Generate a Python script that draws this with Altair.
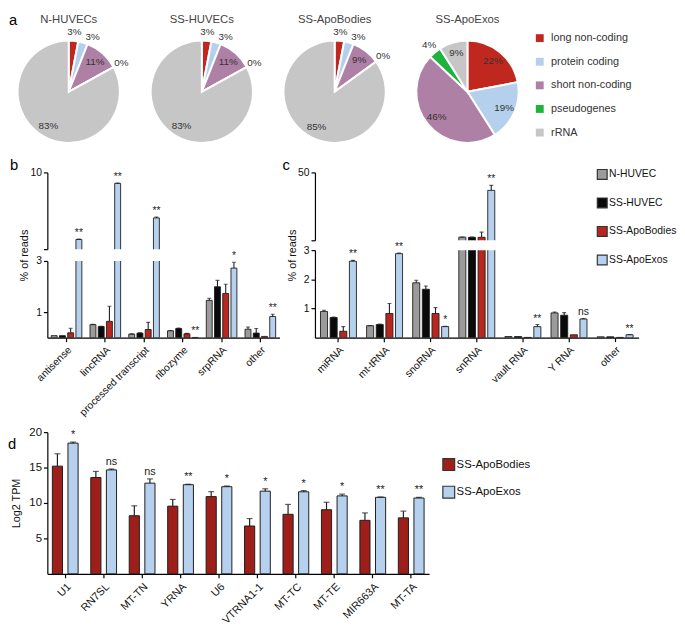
import math
import altair as alt
import pandas as pd

FONT = "Liberation Sans"
INK = "#1e1e1e"

# ---------------- panel a : read composition pies ----------------
pie_titles = ["N-HUVECs", "SS-HUVECs", "SS-ApoBodies", "SS-ApoExos"]
pie_types = ["long non-coding", "protein coding", "short non-coding", "pseudogenes", "rRNA"]
pie_colors = ["#C0281F", "#B5D0EC", "#AE80A6", "#1DB43B", "#C6C6C6"]
pie_n_huvec = [3, 3, 11, 0, 83]
pie_ss_huvec = [3, 3, 11, 0, 83]
pie_ss_apobodies = [3, 3, 9, 0, 85]
pie_ss_apoexos = [22, 19, 46, 4, 9]

# ---------------- panel b : long RNA biotypes (% of reads) ----------------
groups = ["N-HUVEC", "SS-HUVEC", "SS-ApoBodies", "SS-ApoExos"]
group_colors = ["#9B9B9B", "#0A0A0A", "#B8271F", "#B6D1EE"]
b_cats = ["antisense", "lincRNA", "processed transcript", "ribozyme", "srpRNA", "other"]
b_n_huvec = [0.08, 0.51, 0.14, 0.27, 1.46, 0.33]
b_n_huvec_err = [0.0, 0.01, 0.01, 0.01, 0.08, 0.09]
b_ss_huvec = [0.08, 0.44, 0.18, 0.36, 1.99, 0.18]
b_ss_huvec_err = [0.0, 0.01, 0.01, 0.02, 0.25, 0.18]
b_ss_apobodies = [0.19, 0.64, 0.32, 0.15, 1.73, 0.05]
b_ss_apobodies_err = [0.18, 0.59, 0.28, 0.02, 0.36, 0.0]
b_ss_apoexos = [3.88, 9.0, 5.85, 0.01, 2.72, 0.83]
b_ss_apoexos_err = [0.05, 0.04, 0.08, 0.0, 0.23, 0.09]
b_sig = ["**", "**", "**", "**", "*", "**"]

# ---------------- panel c : short RNA biotypes (% of reads) ----------------
c_cats = ["miRNA", "mt-tRNA", "snoRNA", "snRNA", "vault RNA", "Y RNA", "other"]
c_n_huvec = [0.90, 0.41, 1.88, 7.1, 0.04, 0.85, 0.03]
c_n_huvec_err = [0.04, 0.01, 0.09, 0.1, 0.0, 0.03, 0.0]
c_ss_huvec = [0.69, 0.45, 1.66, 7.0, 0.04, 0.77, 0.03]
c_ss_huvec_err = [0.02, 0.02, 0.11, 0.1, 0.0, 0.09, 0.0]
c_ss_apobodies = [0.22, 0.83, 0.83, 7.0, 0.01, 0.10, 0.01]
c_ss_apobodies_err = [0.16, 0.34, 0.20, 3.4, 0.0, 0.0, 0.0]
c_ss_apoexos = [2.62, 2.88, 0.38, 38.1, 0.38, 0.64, 0.10]
c_ss_apoexos_err = [0.03, 0.02, 0.01, 3.3, 0.07, 0.02, 0.01]
c_sig = ["**", "**", "*", "**", "**", "ns", "**"]

# ---------------- panel d : top small RNAs (Log2 TPM) ----------------
d_cats = ["U1", "RN7SL", "MT-TN", "YRNA", "U6", "VTRNA1-1", "MT-TC", "MT-TE", "MIR663A", "MT-TA"]
d_groups = ["SS-ApoBodies", "SS-ApoExos"]
d_colors = ["#9E1F19", "#B6D1EE"]
d_apobodies = [15.2, 13.6, 8.2, 9.55, 10.9, 6.75, 8.4, 9.05, 7.55, 7.9]
d_apobodies_err = [1.75, 0.85, 1.4, 0.95, 0.7, 1.05, 1.4, 1.05, 1.05, 0.95]
d_apoexos = [18.45, 14.67, 12.8, 12.58, 12.3, 11.67, 11.58, 11.0, 10.8, 10.7]
d_apoexos_err = [0.15, 0.13, 0.6, 0.07, 0.1, 0.33, 0.17, 0.25, 0.05, 0.1]
d_sig = ["*", "ns", "ns", "**", "*", "*", "*", "*", "**", "**"]

PIE_R = 52
PIE_W = 124
PIE_H = 120
PIE1_CX = 21.7  # first pie sits left of the shared plot origin


def text_at(t, x, y, size=15, color="black", align="left"):
    return alt.Chart(pd.DataFrame({"t": [t]})).mark_text(
        align=align, baseline="middle", fontSize=size, font=FONT, color=color
    ).encode(x=alt.value(x), y=alt.value(y), text="t:N")


pie_legend = alt.Legend(
    title=None, symbolType="square", symbolSize=64, symbolStrokeWidth=0,
    labelFontSize=11, labelColor="#333", rowPadding=12, labelOffset=6,
    offset=6, padding=0, orient="right",
)


def pie_chart(title, pcts, cx, width, with_letter):
    rows = []
    cum = 0.0
    prev_out = None
    for t, p in zip(pie_types, pcts):
        start, end = cum, cum + p
        pos = (start + end) / 2
        outside = p < 5
        if outside:
            if prev_out is not None and pos - prev_out < 5:
                pos = prev_out + 5
            prev_out = pos
        rows.append(dict(type=t, start=start, end=end, pos=pos,
                         lab_r=PIE_R + 9 if outside else PIE_R * 0.78,
                         label=f"{p}%"))
        cum = end
    df = pd.DataFrame(rows)
    tscale = alt.Scale(domain=[0, 100], range=[0, 2 * math.pi])
    cy = PIE_H / 2
    arcs = alt.Chart(df).mark_arc(outerRadius=PIE_R, stroke="white", strokeWidth=2).encode(
        x=alt.value(cx), y=alt.value(cy),
        theta=alt.Theta("start:Q", scale=tscale),
        theta2="end:Q",
        color=alt.Color("type:N", sort=pie_types,
                        scale=alt.Scale(domain=pie_types, range=pie_colors),
                        legend=pie_legend),
    )
    labels = alt.Chart(df).mark_text(fontSize=10, font=FONT, color="#333").encode(
        x=alt.value(cx), y=alt.value(cy),
        theta=alt.Theta("pos:Q", scale=tscale),
        radius=alt.Radius("lab_r:Q", scale=None),
        text="label:N",
    )
    layers = [arcs, labels, text_at(title, cx, -13, size=11.5, color="#444",
                                    align="center")]
    if with_letter:
        layers.append(text_at("a", -39, -13))
    return alt.layer(*layers).properties(width=width, height=PIE_H)


pie_series = [pie_n_huvec, pie_ss_huvec, pie_ss_apobodies, pie_ss_apoexos]
pies = []
for i, (t, s) in enumerate(zip(pie_titles, pie_series)):
    if i == 0:
        pies.append(pie_chart(t, s, PIE1_CX, PIE1_CX + PIE_W / 2, True))
    else:
        pies.append(pie_chart(t, s, PIE_W / 2, PIE_W, False))
row_a = alt.hconcat(*pies, spacing=11)


def long_df(cats, series, errs, grp):
    rows = []
    for g, vals, es in zip(grp, series, errs):
        for c, v, e in zip(cats, vals, es):
            rows.append(dict(cat=c, group=g, value=v, err=e, top=v + e))
    return pd.DataFrame(rows)


bc_legend = alt.Legend(
    title=None, symbolType="square", symbolSize=100, symbolStrokeColor="#333",
    symbolStrokeWidth=1.2, labelFontSize=10.5, labelColor="#111", rowPadding=13,
    labelOffset=1, padding=0, orient="none", legendX=286, legendY=-4,
)

x_lab_axis = dict(labelAngle=-45, labelAlign="right", labelBaseline="top",
                  title=None, labelFontSize=10.5, labelPadding=3)


def bar_view(df, sig_df, cats, grp, colors, ydomain, width, height, yaxis, xaxis,
             x_pad, xo_pad, legend, extra=None):
    x = alt.X("cat:N", sort=cats, title=None,
              scale=alt.Scale(domain=cats, paddingInner=x_pad[0], paddingOuter=x_pad[1]),
              axis=xaxis)
    xo = alt.XOffset("group:N", sort=grp, scale=alt.Scale(domain=grp, paddingInner=xo_pad))
    ysc = alt.Scale(domain=ydomain, nice=False, zero=False)
    bars = alt.Chart(df).mark_bar(clip=True, stroke=INK, strokeWidth=0.9).encode(
        x=x, xOffset=xo,
        y=alt.Y("value:Q", scale=ysc, axis=yaxis),
        color=alt.Color("group:N", sort=grp, scale=alt.Scale(domain=grp, range=colors),
                        legend=legend),
    )
    errdf = df[df.err > 0]
    rule = alt.Chart(errdf).mark_rule(clip=True, color=INK, strokeWidth=1.1).encode(
        x=x, xOffset=xo, y="value:Q", y2="top:Q")
    cap = alt.Chart(errdf).mark_tick(clip=True, color=INK, thickness=1.1, size=4).encode(
        x=x, xOffset=xo, y="top:Q")
    txt = alt.Chart(sig_df).mark_text(baseline="bottom", dy=-1, fontSize=10.5,
                                      font=FONT, color="#222").encode(
        x=x, xOffset=xo, y="top:Q", text="sig:N")
    layers = [bars, rule, cap, txt]
    if extra is not None:
        layers.append(extra)
    return alt.layer(*layers).properties(width=width, height=height)


def sig_frame(cats, vals, errs, sigs, grp):
    return pd.DataFrame(dict(cat=cats, group=[grp] * len(cats), sig=sigs,
                             top=[v + e for v, e in zip(vals, errs)]))


# ---- panel b ----
b_df = long_df(b_cats,
               [b_n_huvec, b_ss_huvec, b_ss_apobodies, b_ss_apoexos],
               [b_n_huvec_err, b_ss_huvec_err, b_ss_apobodies_err, b_ss_apoexos_err],
               groups)
b_sig_df = sig_frame(b_cats, b_ss_apoexos, b_ss_apoexos_err, b_sig, "SS-ApoExos")
B_W = 236
b_up = bar_view(
    b_df, b_sig_df[b_sig_df.top > 3], b_cats, groups, group_colors, [3, 10], B_W, 78,
    alt.Axis(values=[3, 4, 6, 8, 10], labelExpr="datum.value == 3 ? '' : datum.label",
             title=None),
    None, (0.21, 0.1), 0.28, None, extra=text_at("b", -38, -7))
b_low = bar_view(
    b_df, b_sig_df[b_sig_df.top <= 3], b_cats, groups, group_colors, [0, 3], B_W, 78,
    alt.Axis(values=[1, 2, 3], title="% of reads", titleY=-6, titlePadding=6),
    alt.Axis(**x_lab_axis), (0.21, 0.1), 0.28, None)
panel_b = alt.vconcat(b_up, b_low, spacing=12, bounds="flush").resolve_scale(
    y="independent")

# ---- panel c ----
c_df = long_df(c_cats,
               [c_n_huvec, c_ss_huvec, c_ss_apobodies, c_ss_apoexos],
               [c_n_huvec_err, c_ss_huvec_err, c_ss_apobodies_err, c_ss_apoexos_err],
               groups)
c_sig_df = sig_frame(c_cats, c_ss_apoexos, c_ss_apoexos_err, c_sig, "SS-ApoExos")
C_W = 329
c_up = bar_view(
    c_df, c_sig_df[c_sig_df.top > 5], c_cats, groups, group_colors, [5, 50], C_W, 69,
    alt.Axis(values=[5, 10, 20, 30, 40, 50],
             labelExpr="datum.value == 5 ? '' : datum.label", title=None),
    None, (0.22, 0.12), 0.27, bc_legend, extra=text_at("c", -33, -7))
c_low = bar_view(
    c_df, c_sig_df[c_sig_df.top <= 3], c_cats, groups, group_colors, [0, 3], C_W, 89,
    alt.Axis(values=[1, 2, 3], title="% of reads", titleY=5, titlePadding=6),
    alt.Axis(**x_lab_axis), (0.22, 0.12), 0.27, bc_legend)
panel_c = alt.vconcat(c_up, c_low, spacing=10, bounds="flush").resolve_scale(
    y="independent")

row_bc = alt.hconcat(panel_b, panel_c, spacing=3).resolve_scale(
    x="independent", y="independent", xOffset="independent", color="independent")

# ---- panel d ----
d_df = long_df(d_cats, [d_apobodies, d_apoexos], [d_apobodies_err, d_apoexos_err], d_groups)
d_sig_df = sig_frame(d_cats, d_apoexos, d_apoexos_err, d_sig, "SS-ApoExos")
d_legend = alt.Legend(
    title=None, symbolType="square", symbolSize=144, symbolStrokeColor="#333",
    symbolStrokeWidth=1.2, labelFontSize=11.5, labelColor="#111", rowPadding=10,
    labelOffset=1, padding=0, orient="none", legendX=401, legendY=26,
)
dx = alt.X("cat:N", sort=d_cats, title=None,
           scale=alt.Scale(domain=d_cats, paddingInner=0.33, paddingOuter=0.13),
           axis=alt.Axis(labelAngle=-45, labelAlign="right", labelBaseline="top",
                         labelFontSize=11, labelPadding=3))
dxo = alt.XOffset("group:N", sort=d_groups, scale=alt.Scale(domain=d_groups, paddingInner=0.35))
d_bars = alt.Chart(d_df).mark_bar(stroke=INK, strokeWidth=1).encode(
    x=dx, xOffset=dxo,
    y=alt.Y("value:Q", scale=alt.Scale(domain=[0, 20], nice=False),
            axis=alt.Axis(values=[5, 10, 15, 20], title="Log2 TPM", labelFontSize=11.5,
                          titleFontSize=11, titlePadding=8)),
    color=alt.Color("group:N", sort=d_groups, scale=alt.Scale(domain=d_groups, range=d_colors),
                    legend=d_legend),
)
d_rule = alt.Chart(d_df).mark_rule(color=INK, strokeWidth=1.2).encode(
    x=dx, xOffset=dxo, y="value:Q", y2="top:Q")
d_cap = alt.Chart(d_df).mark_tick(color=INK, thickness=1.2, size=6).encode(
    x=dx, xOffset=dxo, y="top:Q")
d_txt = alt.Chart(d_sig_df).mark_text(baseline="bottom", dy=-2, fontSize=11, font=FONT,
                                      color="#222").encode(
    x=dx, xOffset=dxo, y="top:Q", text="sig:N")
panel_d = alt.layer(d_bars, d_rule, d_cap, d_txt, text_at("d", -40, 12)).properties(
    width=388, height=144)

chart = alt.concat(row_a, row_bc, panel_d, columns=1, spacing=8, align="none").resolve_scale(
    color="independent", x="independent", y="independent", xOffset="independent",
    theta="independent",
).properties(padding=0).configure_axis(
    domainColor="#000", domainWidth=1.2, tickColor="#000", tickWidth=1.2, tickSize=4,
    labelColor="#111", labelFont=FONT, titleFont=FONT, titleFontWeight="normal",
    titleColor="#111", grid=False, labelFontSize=10.5, titleFontSize=11,
).configure_view(stroke=None).configure_legend(labelFont=FONT)

chart.save("out.html", embed_options={"renderer": "svg", "actions": False})
